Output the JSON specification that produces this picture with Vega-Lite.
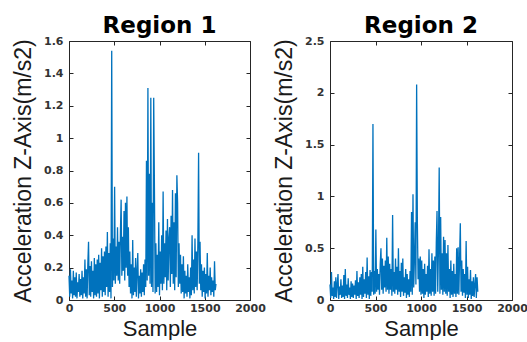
{
"$schema": "https://vega.github.io/schema/vega-lite/v6.json",
"background": "white",
"padding": {"top": 14, "left": 12, "right": 5, "bottom": 0},
"spacing": 80,
"bounds": "flush",
"datasets": {
"r1": [
{"x":0,"y":0.15},{"x":8,"y":0.02},{"x":16,"y":0.19},{"x":24,"y":0.04},{"x":32,"y":0.12},{"x":40,"y":0.01},{"x":48,"y":0.18},{"x":56,"y":0.03},{"x":64,"y":0.14},{"x":72,"y":0.02},
{"x":80,"y":0.17},{"x":88,"y":0.01},{"x":96,"y":0.11},{"x":104,"y":0.05},{"x":112,"y":0.16},{"x":120,"y":0.02},{"x":128,"y":0.13},{"x":136,"y":0.03},{"x":144,"y":0.18},{"x":152,"y":0.01},
{"x":160,"y":0.14},{"x":168,"y":0.04},{"x":176,"y":0.25},{"x":184,"y":0.02},{"x":192,"y":0.19},{"x":200,"y":0.01},{"x":208,"y":0.22},{"x":216,"y":0.36},{"x":224,"y":0.03},{"x":232,"y":0.21},
{"x":240,"y":0.02},{"x":248,"y":0.24},{"x":256,"y":0.05},{"x":264,"y":0.18},{"x":272,"y":0.01},{"x":280,"y":0.26},{"x":288,"y":0.03},{"x":296,"y":0.22},{"x":304,"y":0.02},{"x":312,"y":0.25},
{"x":320,"y":0.04},{"x":328,"y":0.28},{"x":336,"y":0.01},{"x":344,"y":0.23},{"x":352,"y":0.06},{"x":360,"y":0.32},{"x":368,"y":0.02},{"x":376,"y":0.27},{"x":384,"y":0.05},{"x":392,"y":0.3},
{"x":400,"y":0.03},{"x":408,"y":0.33},{"x":416,"y":0.08},{"x":424,"y":0.42},{"x":432,"y":0.02},{"x":440,"y":0.29},{"x":448,"y":0.05},{"x":456,"y":0.35},{"x":464,"y":0.01},{"x":472,"y":1.54},
{"x":480,"y":0.08},{"x":488,"y":0.38},{"x":496,"y":0.12},{"x":504,"y":0.7},{"x":512,"y":0.1},{"x":520,"y":0.33},{"x":528,"y":0.15},{"x":536,"y":0.45},{"x":544,"y":0.12},{"x":552,"y":0.36},
{"x":560,"y":0.1},{"x":568,"y":0.41},{"x":576,"y":0.62},{"x":584,"y":0.15},{"x":592,"y":0.39},{"x":600,"y":0.18},{"x":608,"y":0.55},{"x":616,"y":0.12},{"x":624,"y":0.6},{"x":632,"y":0.2},
{"x":640,"y":0.64},{"x":648,"y":0.15},{"x":656,"y":0.45},{"x":664,"y":0.08},{"x":672,"y":0.3},{"x":680,"y":0.04},{"x":688,"y":0.22},{"x":696,"y":0.01},{"x":704,"y":0.37},{"x":712,"y":0.03},
{"x":720,"y":0.2},{"x":728,"y":0.05},{"x":736,"y":0.26},{"x":744,"y":0.02},{"x":752,"y":0.18},{"x":760,"y":0.29},{"x":768,"y":0.01},{"x":776,"y":0.15},{"x":784,"y":0.04},{"x":792,"y":0.19},
{"x":800,"y":0.02},{"x":808,"y":0.17},{"x":816,"y":0.05},{"x":824,"y":0.22},{"x":832,"y":0.03},{"x":840,"y":0.25},{"x":848,"y":0.08},{"x":856,"y":0.86},{"x":864,"y":0.12},{"x":872,"y":1.31},
{"x":880,"y":0.15},{"x":888,"y":0.78},{"x":896,"y":0.1},{"x":904,"y":1.25},{"x":912,"y":0.08},{"x":920,"y":0.6},{"x":928,"y":0.05},{"x":936,"y":1.25},{"x":944,"y":0.69},{"x":952,"y":0.04},
{"x":960,"y":0.35},{"x":968,"y":0.05},{"x":976,"y":0.28},{"x":984,"y":0.08},{"x":992,"y":0.48},{"x":1000,"y":0.03},{"x":1008,"y":0.3},{"x":1016,"y":0.1},{"x":1024,"y":0.4},{"x":1032,"y":0.06},
{"x":1040,"y":0.67},{"x":1048,"y":0.1},{"x":1056,"y":0.35},{"x":1064,"y":0.14},{"x":1072,"y":0.43},{"x":1080,"y":0.06},{"x":1088,"y":0.5},{"x":1096,"y":0.12},{"x":1104,"y":0.38},{"x":1112,"y":0.45},
{"x":1120,"y":0.08},{"x":1128,"y":0.52},{"x":1136,"y":0.16},{"x":1144,"y":0.68},{"x":1152,"y":0.1},{"x":1160,"y":0.48},{"x":1168,"y":0.06},{"x":1176,"y":0.66},{"x":1184,"y":0.14},{"x":1192,"y":0.77},
{"x":1200,"y":0.6},{"x":1208,"y":0.08},{"x":1216,"y":0.35},{"x":1224,"y":0.1},{"x":1232,"y":0.28},{"x":1240,"y":0.04},{"x":1248,"y":0.22},{"x":1256,"y":0.05},{"x":1264,"y":0.27},{"x":1272,"y":0.01},
{"x":1280,"y":0.18},{"x":1288,"y":0.04},{"x":1296,"y":0.15},{"x":1304,"y":0.02},{"x":1312,"y":0.22},{"x":1320,"y":0.05},{"x":1328,"y":0.14},{"x":1336,"y":0.01},{"x":1344,"y":0.2},{"x":1352,"y":0.03},
{"x":1360,"y":0.4},{"x":1368,"y":0.06},{"x":1376,"y":0.25},{"x":1384,"y":0.04},{"x":1392,"y":0.38},{"x":1400,"y":0.08},{"x":1408,"y":0.3},{"x":1416,"y":0.06},{"x":1424,"y":0.35},{"x":1432,"y":0.91},
{"x":1440,"y":0.1},{"x":1448,"y":0.36},{"x":1456,"y":0.06},{"x":1464,"y":0.22},{"x":1472,"y":0.02},{"x":1480,"y":0.18},{"x":1488,"y":0.05},{"x":1496,"y":0.2},{"x":1504,"y":0.01},{"x":1512,"y":0.16},
{"x":1520,"y":0.04},{"x":1528,"y":0.29},{"x":1536,"y":0.02},{"x":1544,"y":0.15},{"x":1552,"y":0.06},{"x":1560,"y":0.2},{"x":1568,"y":0.03},{"x":1576,"y":0.14},{"x":1584,"y":0.05},{"x":1592,"y":0.12},
{"x":1600,"y":0.02},{"x":1608,"y":0.24},{"x":1616,"y":0.06},{"x":1624,"y":0.1}
],
"r2": [
{"x":0,"y":0.15},{"x":8,"y":0.02},{"x":16,"y":0.27},{"x":24,"y":0.04},{"x":32,"y":0.12},{"x":40,"y":0.01},{"x":48,"y":0.18},{"x":56,"y":0.03},{"x":64,"y":0.22},{"x":72,"y":0.02},
{"x":80,"y":0.16},{"x":88,"y":0.25},{"x":96,"y":0.01},{"x":104,"y":0.13},{"x":112,"y":0.05},{"x":120,"y":0.2},{"x":128,"y":0.02},{"x":136,"y":0.14},{"x":144,"y":0.03},{"x":152,"y":0.24},
{"x":160,"y":0.01},{"x":168,"y":0.3},{"x":176,"y":0.04},{"x":184,"y":0.15},{"x":192,"y":0.02},{"x":200,"y":0.21},{"x":208,"y":0.05},{"x":216,"y":0.12},{"x":224,"y":0.01},{"x":232,"y":0.18},
{"x":240,"y":0.03},{"x":248,"y":0.16},{"x":256,"y":0.02},{"x":264,"y":0.14},{"x":272,"y":0.05},{"x":280,"y":0.19},{"x":288,"y":0.01},{"x":296,"y":0.28},{"x":304,"y":0.04},{"x":312,"y":0.17},
{"x":320,"y":0.02},{"x":328,"y":0.22},{"x":336,"y":0.05},{"x":344,"y":0.25},{"x":352,"y":0.01},{"x":360,"y":0.32},{"x":368,"y":0.03},{"x":376,"y":0.2},{"x":384,"y":0.06},{"x":392,"y":0.27},
{"x":400,"y":0.02},{"x":408,"y":0.41},{"x":416,"y":0.05},{"x":424,"y":0.23},{"x":432,"y":0.01},{"x":440,"y":0.29},{"x":448,"y":0.04},{"x":456,"y":0.27},{"x":464,"y":0.08},{"x":472,"y":1.7},
{"x":480,"y":0.05},{"x":488,"y":0.28},{"x":496,"y":0.06},{"x":504,"y":0.68},{"x":512,"y":0.08},{"x":520,"y":0.3},{"x":528,"y":0.1},{"x":536,"y":0.25},{"x":544,"y":0.05},{"x":552,"y":0.35},
{"x":560,"y":0.5},{"x":568,"y":0.1},{"x":576,"y":0.4},{"x":584,"y":0.06},{"x":592,"y":0.33},{"x":600,"y":0.12},{"x":608,"y":0.38},{"x":616,"y":0.08},{"x":624,"y":0.6},{"x":632,"y":0.1},
{"x":640,"y":0.42},{"x":648,"y":0.06},{"x":656,"y":0.35},{"x":664,"y":0.1},{"x":672,"y":0.3},{"x":680,"y":0.04},{"x":688,"y":0.82},{"x":696,"y":0.08},{"x":704,"y":0.27},{"x":712,"y":0.06},
{"x":720,"y":0.4},{"x":728,"y":0.1},{"x":736,"y":0.32},{"x":744,"y":0.05},{"x":752,"y":0.5},{"x":760,"y":0.08},{"x":768,"y":0.28},{"x":776,"y":0.03},{"x":784,"y":0.36},{"x":792,"y":0.08},
{"x":800,"y":0.4},{"x":808,"y":0.04},{"x":816,"y":0.22},{"x":824,"y":0.07},{"x":832,"y":0.3},{"x":840,"y":0.02},{"x":848,"y":0.25},{"x":856,"y":0.05},{"x":864,"y":0.2},{"x":872,"y":0.03},
{"x":880,"y":0.28},{"x":888,"y":0.08},{"x":896,"y":0.85},{"x":904,"y":0.05},{"x":912,"y":1.02},{"x":920,"y":0.12},{"x":928,"y":0.4},{"x":936,"y":0.75},{"x":944,"y":0.15},{"x":952,"y":2.08},
{"x":960,"y":0.75},{"x":968,"y":0.2},{"x":976,"y":0.4},{"x":984,"y":0.08},{"x":992,"y":0.42},{"x":1000,"y":0.05},{"x":1008,"y":0.38},{"x":1016,"y":0.06},{"x":1024,"y":0.3},{"x":1032,"y":0.02},
{"x":1040,"y":0.35},{"x":1048,"y":0.05},{"x":1056,"y":0.25},{"x":1064,"y":0.08},{"x":1072,"y":0.33},{"x":1080,"y":0.03},{"x":1088,"y":0.49},{"x":1096,"y":0.06},{"x":1104,"y":0.3},{"x":1112,"y":0.04},
{"x":1120,"y":0.45},{"x":1128,"y":0.08},{"x":1136,"y":0.38},{"x":1144,"y":0.04},{"x":1152,"y":0.42},{"x":1160,"y":0.06},{"x":1168,"y":0.55},{"x":1176,"y":0.86},{"x":1184,"y":0.08},{"x":1192,"y":0.5},
{"x":1200,"y":1.28},{"x":1208,"y":0.06},{"x":1216,"y":0.8},{"x":1224,"y":0.1},{"x":1232,"y":0.45},{"x":1240,"y":0.05},{"x":1248,"y":0.61},{"x":1256,"y":0.08},{"x":1264,"y":0.58},{"x":1272,"y":0.06},
{"x":1280,"y":0.45},{"x":1288,"y":0.04},{"x":1296,"y":0.53},{"x":1304,"y":0.08},{"x":1312,"y":0.3},{"x":1320,"y":0.02},{"x":1328,"y":0.38},{"x":1336,"y":0.05},{"x":1344,"y":0.28},{"x":1352,"y":0.03},
{"x":1360,"y":0.35},{"x":1368,"y":0.06},{"x":1376,"y":0.25},{"x":1384,"y":0.03},{"x":1392,"y":0.5},{"x":1400,"y":0.06},{"x":1408,"y":0.51},{"x":1416,"y":0.05},{"x":1424,"y":0.4},{"x":1432,"y":0.74},
{"x":1440,"y":0.08},{"x":1448,"y":0.38},{"x":1456,"y":0.04},{"x":1464,"y":0.3},{"x":1472,"y":0.07},{"x":1480,"y":0.25},{"x":1488,"y":0.02},{"x":1496,"y":0.57},{"x":1504,"y":0.05},{"x":1512,"y":0.32},
{"x":1520,"y":0.02},{"x":1528,"y":0.2},{"x":1536,"y":0.05},{"x":1544,"y":0.29},{"x":1552,"y":0.01},{"x":1560,"y":0.18},{"x":1568,"y":0.04},{"x":1576,"y":0.22},{"x":1584,"y":0.03},{"x":1592,"y":0.15},
{"x":1600,"y":0.25},{"x":1608,"y":0.02},{"x":1616,"y":0.22},{"x":1624,"y":0.08}
]
},
"hconcat": [
{
"width": 181, "height": 259,
"title": "Region 1",
"data": {"name": "r1"},
"layer": [
{"mark": {"type": "line", "color": "#0072BD", "strokeWidth": 1.3},
"encoding": {
"x": {"field": "x", "type": "quantitative", "scale": {"domain": [0, 2000], "nice": false}, "axis": {"values": [0, 500, 1000, 1500, 2000], "format": "d", "title": "Sample"}},
"y": {"field": "y", "type": "quantitative", "scale": {"domain": [0, 1.6], "nice": false}, "axis": {"values": [0, 0.2, 0.4, 0.6, 0.8, 1, 1.2, 1.4, 1.6], "format": "~g", "title": "Acceleration Z-Axis(m/s2)"}}
}},
{"mark": {"type": "line", "opacity": 0},
"encoding": {
"x": {"field": "x", "type": "quantitative", "scale": {"domain": [0, 2000], "nice": false}, "axis": {"orient": "top", "values": [0, 500, 1000, 1500, 2000], "labels": false, "title": null}},
"y": {"field": "y", "type": "quantitative", "scale": {"domain": [0, 1.6], "nice": false}, "axis": {"orient": "right", "values": [0, 0.2, 0.4, 0.6, 0.8, 1, 1.2, 1.4, 1.6], "labels": false, "title": null}}
}}
],
"resolve": {"axis": {"x": "independent", "y": "independent"}}
},
{
"width": 182, "height": 259,
"title": "Region 2",
"data": {"name": "r2"},
"layer": [
{"mark": {"type": "line", "color": "#0072BD", "strokeWidth": 1.3},
"encoding": {
"x": {"field": "x", "type": "quantitative", "scale": {"domain": [0, 2000], "nice": false}, "axis": {"values": [0, 500, 1000, 1500, 2000], "format": "d", "title": "Sample"}},
"y": {"field": "y", "type": "quantitative", "scale": {"domain": [0, 2.5], "nice": false}, "axis": {"values": [0, 0.5, 1, 1.5, 2, 2.5], "format": "~g", "title": "Acceleration Z-Axis(m/s2)"}}
}},
{"mark": {"type": "line", "opacity": 0},
"encoding": {
"x": {"field": "x", "type": "quantitative", "scale": {"domain": [0, 2000], "nice": false}, "axis": {"orient": "top", "values": [0, 500, 1000, 1500, 2000], "labels": false, "title": null}},
"y": {"field": "y", "type": "quantitative", "scale": {"domain": [0, 2.5], "nice": false}, "axis": {"orient": "right", "values": [0, 0.5, 1, 1.5, 2, 2.5], "labels": false, "title": null}}
}}
],
"resolve": {"axis": {"x": "independent", "y": "independent"}}
}
],
"config": {
"view": {"stroke": "#262626", "strokeWidth": 1},
"axis": {
"grid": false,
"domain": false,
"offset": -4,
"tickColor": "#262626",
"tickSize": 4,
"labelFlush": false,
"labelOverlap": false,
"labelColor": "#333333",
"labelFont": "DejaVu Sans",
"labelFontWeight": "bold",
"labelFontSize": 11,
"labelPadding": 6,
"titleFont": "Liberation Sans",
"titleFontWeight": "normal",
"titleFontSize": 23,
"titleColor": "#1a1a1a"
},
"axisY": {"titlePadding": 8},
"axisX": {"titlePadding": 5, "labelPadding": 2, "titleFontSize": 22},
"title": {"font": "DejaVu Sans", "fontSize": 23, "fontWeight": "bold", "color": "#000000", "offset": -3}
}
}
